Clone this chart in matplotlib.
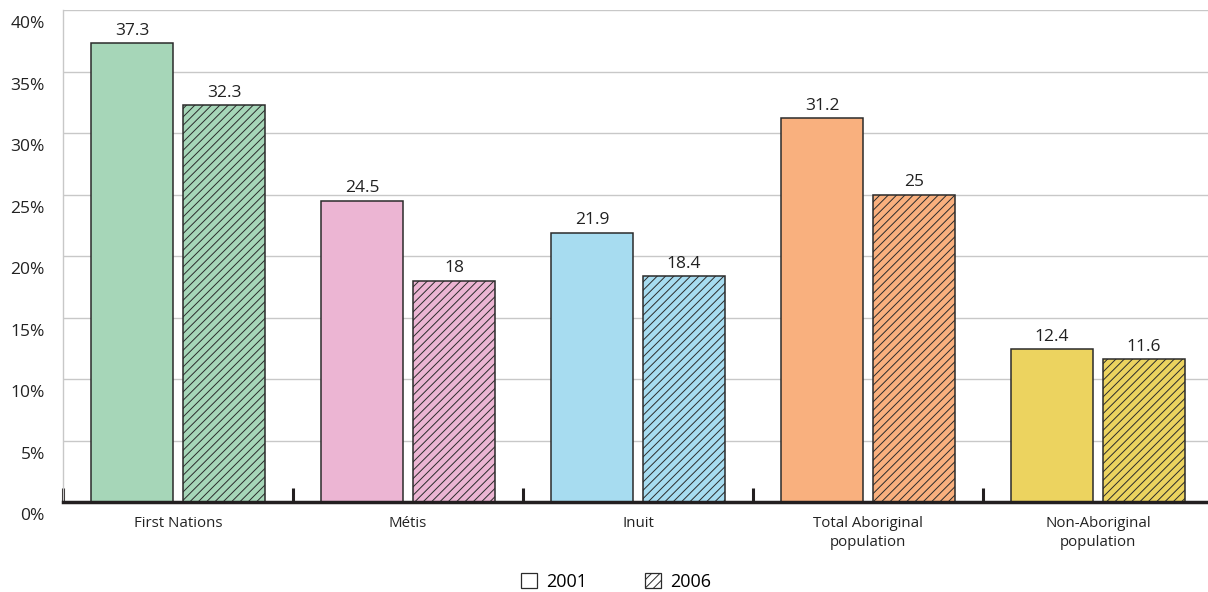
import matplotlib
matplotlib.use("Agg")
import matplotlib.pyplot as plt
import matplotlib.transforms as mtransforms
from matplotlib.patches import Patch
import numpy as np

plt.rcParams['font.family'] = ['Open Sans', 'DejaVu Sans']
plt.rcParams['hatch.linewidth'] = 0.7

categories = ["First Nations", "Métis", "Inuit", "Total Aboriginal\npopulation", "Non-Aboriginal\npopulation"]
values_2001 = [37.3, 24.5, 21.9, 31.2, 12.4]
values_2006 = [32.3, 18, 18.4, 25, 11.6]
labels_2001 = ["37.3", "24.5", "21.9", "31.2", "12.4"]
labels_2006 = ["32.3", "18", "18.4", "25", "11.6"]
colors = ["#a6d6b8", "#ecb5d3", "#a7dcf0", "#f9b07e", "#ecd35f"]
yticks = [0, 5, 10, 15, 20, 25, 30, 35, 40]
ytick_labels = ["0%", "5%", "10%", "15%", "20%", "25%", "30%", "35%", "40%"]
legend_labels = ["2001", "2006"]

W, H = 1208, 592
fig = plt.figure(figsize=(W / 100, H / 100), dpi=100)
ax = fig.add_axes([63 / W, 1 - 502 / H, (W - 63) / W, (502 - 10) / H])

x = np.arange(len(categories))
edge = "#2b2b2b"
b1 = ax.bar(x - 0.2, values_2001, width=0.36, color=colors, edgecolor=edge, linewidth=1.1, zorder=3)
b2 = ax.bar(x + 0.2, values_2006, width=0.36, color=colors, edgecolor=edge, linewidth=1.1,
            hatch="////", zorder=3)

for rect, lab in zip(b1, labels_2001):
    ax.annotate(lab, (rect.get_x() + rect.get_width() / 2, rect.get_height()),
                xytext=(0, 3), textcoords="offset points", ha="center", va="bottom",
                fontsize=12.5, color="#222222")
for rect, lab in zip(b2, labels_2006):
    ax.annotate(lab, (rect.get_x() + rect.get_width() / 2, rect.get_height()),
                xytext=(0, 3), textcoords="offset points", ha="center", va="bottom",
                fontsize=12.5, color="#222222")

ax.set_xlim(-0.5, (W - 63) / 230 - 0.5)
ax.set_ylim(0, 40)
ax.set_yticks(yticks)
ax.set_yticklabels(ytick_labels, fontsize=12.5, color="#222222")
ax.yaxis.grid(True, color="#c8c8c8", linewidth=1, zorder=0)
ax.set_axisbelow(True)
ax.tick_params(axis="y", length=0, pad=13)
offset = mtransforms.ScaledTranslation(0, -0.12, fig.dpi_scale_trans)
for lab in ax.get_yticklabels():
    lab.set_transform(lab.get_transform() + offset)

ax.set_xticks(x)
ax.set_xticklabels(categories, fontsize=10.8, color="#222222", linespacing=1.35, va="top")
ax.tick_params(axis="x", which="major", length=0, pad=10)
ax.set_xticks(np.arange(len(categories)) - 0.5, minor=True)
ax.tick_params(axis="x", which="minor", direction="in", length=10, width=2.2, color="#231f20")

for s in ["top", "right"]:
    ax.spines[s].set_visible(False)
ax.spines["left"].set_color("#c8c8c8")
ax.spines["left"].set_linewidth(1)
ax.spines["bottom"].set_color("#231f20")
ax.spines["bottom"].set_linewidth(2.5)
ax.spines["bottom"].set_zorder(5)

handles = [Patch(facecolor="white", edgecolor=edge, linewidth=0.9),
           Patch(facecolor="white", edgecolor=edge, linewidth=0.9, hatch="////")]
fig.legend(handles, legend_labels, loc="center", bbox_to_anchor=(616 / W, 1 - 582 / H),
           ncol=2, frameon=False, fontsize=13, handlelength=0.9, handleheight=0.9,
           handletextpad=0.5, columnspacing=3.2)

fig.savefig("out.png", dpi=100)
